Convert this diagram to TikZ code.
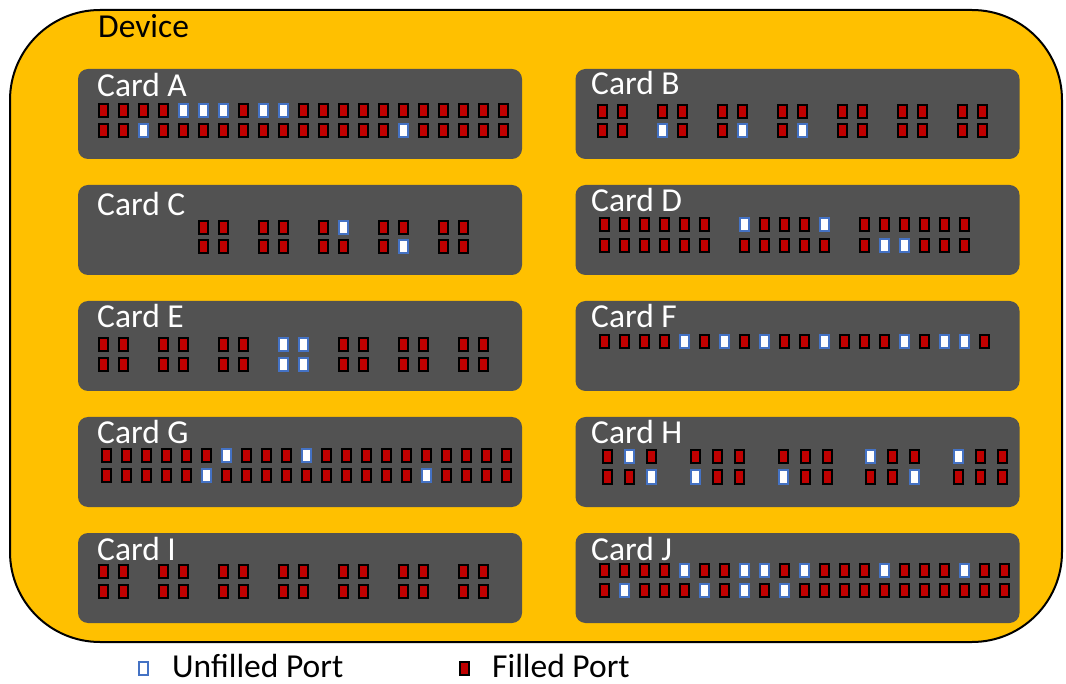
\documentclass[tikz,border=0pt]{standalone}
\usepackage{fontspec}
\setmainfont{Carlito}
\definecolor{devyellow}{HTML}{FFC000}
\definecolor{cardgray}{HTML}{525252}
\definecolor{portred}{HTML}{C00000}
\definecolor{portblue}{HTML}{4472C4}
\tikzset{
  device/.style={draw=black, line width=2pt, fill=devyellow, rounded corners=90pt,
    minimum width=1052pt, minimum height=632pt},
  card/.style={fill=cardgray, rounded corners=10pt, minimum width=444pt, minimum height=90pt},
  cardlabel/.style={anchor=base west, inner sep=0pt, text=white, font=\fontsize{33.5}{36}\selectfont},
  keytext/.style={anchor=base west, inner sep=0pt, font=\fontsize{33.5}{36}\selectfont},
  port/.style={rectangle, minimum width=9pt, minimum height=13pt, inner sep=0pt, line width=2pt},
  portf/.style={port, draw=black, fill=portred},
  portu/.style={port, draw=portblue, fill=white}
}
% name, first x, y, pitch, list of f (filled) / u (unfilled) / . (gap)
\newcommand{\portrow}[5]{%
  \foreach \t [count=\i from 0] in {#5}{%
    \if.\t\else
      \if u\t
        \node[portu] (#1-\i) at ({#2+\i*#4},#3) {};
      \else
        \node[portf] (#1-\i) at ({#2+\i*#4},#3) {};
      \fi
    \fi}}
\begin{document}
\begin{tikzpicture}[x=1pt,y=-1pt]
\useasboundingbox (0,0) rectangle (1066,684);
\node[device] (dev) at (536,326) {};
\node[anchor=base west, inner sep=0pt, font=\fontsize{33.5}{36}\selectfont] (devlab) at (98,38) {Device};

\node[card] (cardA) at (300,114) {};
\node[card] (cardB) at (797.5,114) {};
\node[card] (cardC) at (300,230) {};
\node[card] (cardD) at (797.5,230) {};
\node[card] (cardE) at (300,346) {};
\node[card] (cardF) at (797.5,346) {};
\node[card] (cardG) at (300,462) {};
\node[card] (cardH) at (797.5,462) {};
\node[card] (cardI) at (300,578) {};
\node[card] (cardJ) at (797.5,578) {};

\node[cardlabel] (labA) at (97,97) {Card A};
\node[cardlabel] (labB) at (591,95) {Card B};
\node[cardlabel] (labC) at (97,216) {Card C};
\node[cardlabel] (labD) at (591,212) {Card D};
\node[cardlabel] (labE) at (97,328) {Card E};
\node[cardlabel] (labF) at (591,328) {Card F};
\node[cardlabel] (labG) at (97,444) {Card G};
\node[cardlabel] (labH) at (591,444) {Card H};
\node[cardlabel] (labI) at (97,560) {Card I};
\node[cardlabel] (labJ) at (591,560) {Card J};

\portrow{a1}{103}{110.8}{20}{f,f,f,f,u,u,u,f,u,u,f,f,f,f,f,f,f,f,f,f,f}
\portrow{a2}{103}{130.8}{20}{f,f,u,f,f,f,f,f,f,f,f,f,f,f,f,u,f,f,f,f,f}
\portrow{b1}{602.5}{111.3}{20}{f,f,.,f,f,.,f,f,.,f,f,.,f,f,.,f,f,.,f,f}
\portrow{b2}{602.5}{130.8}{20}{f,f,.,u,f,.,f,u,.,f,u,.,f,f,.,f,f,.,f,f}
\portrow{c1}{203.3}{228}{20}{f,f,.,f,f,.,f,u,.,f,f,.,f,f}
\portrow{c2}{203.3}{247}{20}{f,f,.,f,f,.,f,f,.,f,u,.,f,f}
\portrow{d1}{604.2}{225}{20}{f,f,f,f,f,f,.,u,f,f,f,u,.,f,f,f,f,f,f}
\portrow{d2}{604.2}{245.5}{20}{f,f,f,f,f,f,.,f,f,f,f,f,.,f,u,u,f,f,f}
\portrow{e1}{103}{344.2}{20}{f,f,.,f,f,.,f,f,.,u,u,.,f,f,.,f,f,.,f,f}
\portrow{e2}{103}{364.2}{20}{f,f,.,f,f,.,f,f,.,u,u,.,f,f,.,f,f,.,f,f}
\portrow{f1}{604.2}{341.5}{20}{f,f,f,f,u,f,u,f,u,f,f,u,f,f,f,u,f,u,u,f}
\portrow{g1}{106.3}{455.2}{20}{f,f,f,f,f,f,u,f,f,f,u,f,f,f,f,f,f,f,f,f,f}
\portrow{g2}{106.3}{475.5}{20}{f,f,f,f,f,u,f,f,f,f,f,f,f,f,f,f,u,f,f,f,f}
\portrow{h1}{607.5}{457}{21.95}{f,u,f,.,f,f,f,.,f,f,f,.,u,f,f,.,u,f,f}
\portrow{h2}{607.5}{477}{21.95}{f,f,u,.,u,f,f,.,u,f,f,.,f,f,u,.,f,f,f}
\portrow{i1}{103.8}{571.7}{20}{f,f,.,f,f,.,f,f,.,f,f,.,f,f,.,f,f,.,f,f}
\portrow{i2}{103.8}{591}{20}{f,f,.,f,f,.,f,f,.,f,f,.,f,f,.,f,f,.,f,f}
\portrow{j1}{604.2}{570.8}{20}{f,f,f,f,u,f,f,u,u,f,u,f,f,f,u,f,f,f,u,f,f}
\portrow{j2}{604.2}{590.8}{20}{f,u,f,f,f,u,f,u,f,u,f,f,f,f,f,f,f,f,f,f,f}

\node[portu] (keyu) at (143,668) {};
\node[keytext] (keyut) at (172,677) {Unfilled Port};
\node[portf] (keyf) at (464,668) {};
\node[keytext] (keyft) at (492,677) {Filled Port};
\end{tikzpicture}
\end{document}
